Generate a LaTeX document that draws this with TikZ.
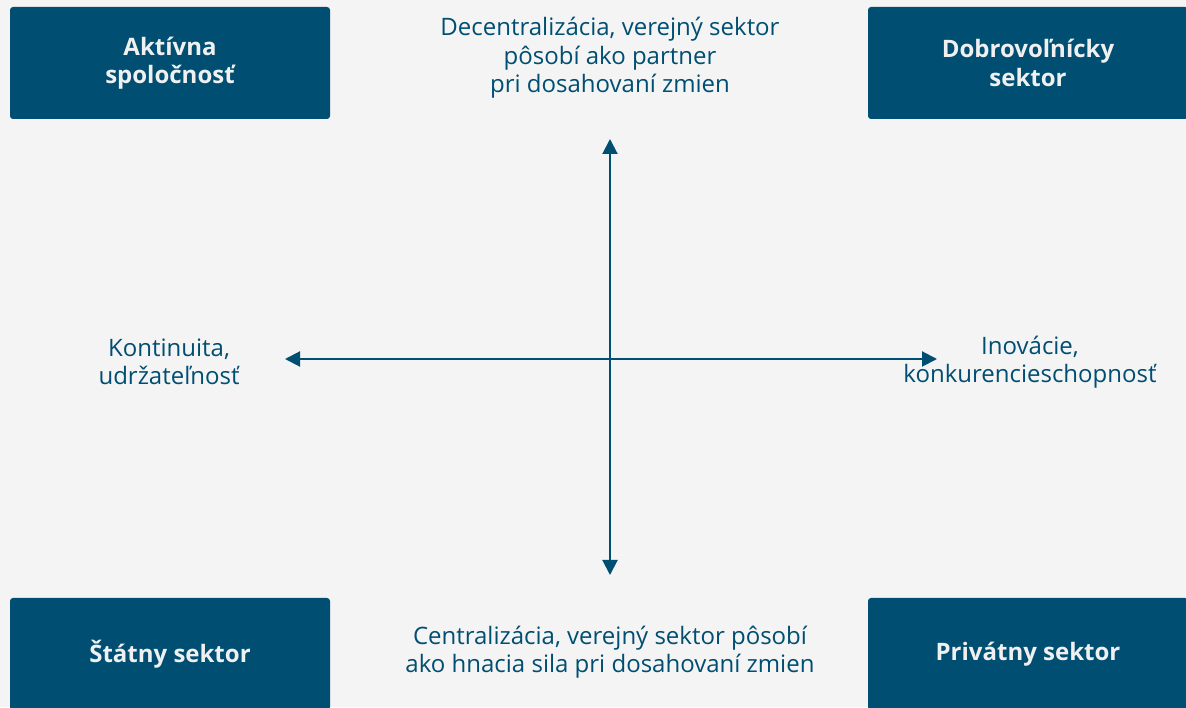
\documentclass[tikz,border=0pt]{standalone}
\usepackage{fontspec}
\setmainfont{Open Sans}
\usetikzlibrary{arrows.meta}
\definecolor{navy}{RGB}{0,78,114}
\definecolor{bgray}{RGB}{244,244,244}
\definecolor{boxtext}{RGB}{240,240,240}
\begin{document}
\begin{tikzpicture}[x=1pt, y=1pt,
        sector/.style={fill=navy, rounded corners=3pt, minimum width=320pt, minimum height=112pt, text=boxtext, font=\fontsize{24}{28.5}\selectfont\bfseries, align=center, inner sep=0pt},
        pole/.style={text=navy, font=\fontsize{24}{28.5}\selectfont, align=center, inner sep=0pt},
        >={Triangle[length=15pt, width=15pt]}]
    \clip (0, 0) rectangle (1186, 707);
    \fill[bgray] (0, 0) rectangle (1186, 707);
    \node[sector] (active) at (170, 644) {Aktívna\\spoločnosť};
    \node[sector] (volunteer) at (1028, 644) {Dobrovoľnícky\\sektor};
    \node[sector] (state) at (170, 53) {Štátny sektor};
    \node[sector] (private) at (1028, 53) {Privátny sektor};
    \node[pole] (decentral) at (610, 649) {Decentralizácia, verejný sektor\\pôsobí ako partner\\pri dosahovaní zmien};
    \node[pole] (central) at (610, 55) {Centralizácia, verejný sektor pôsobí\\ako hnacia sila pri dosahovaní zmien};
    \node[pole] (continuity) at (169, 345) {Kontinuita,\\udržateľnosť};
    \node[pole] (innovation) at (1030, 345) {Inovácie,\\konkurencieschopnosť};
    \coordinate (up) at (610, 568);
    \coordinate (down) at (610, 132);
    \coordinate (left) at (285, 348);
    \coordinate (right) at (937, 348);
    \draw[<->, navy, line width=2pt] (down) -- (up);
    \draw[<->, navy, line width=2pt] (left) -- (right);
\end{tikzpicture}
\end{document}
